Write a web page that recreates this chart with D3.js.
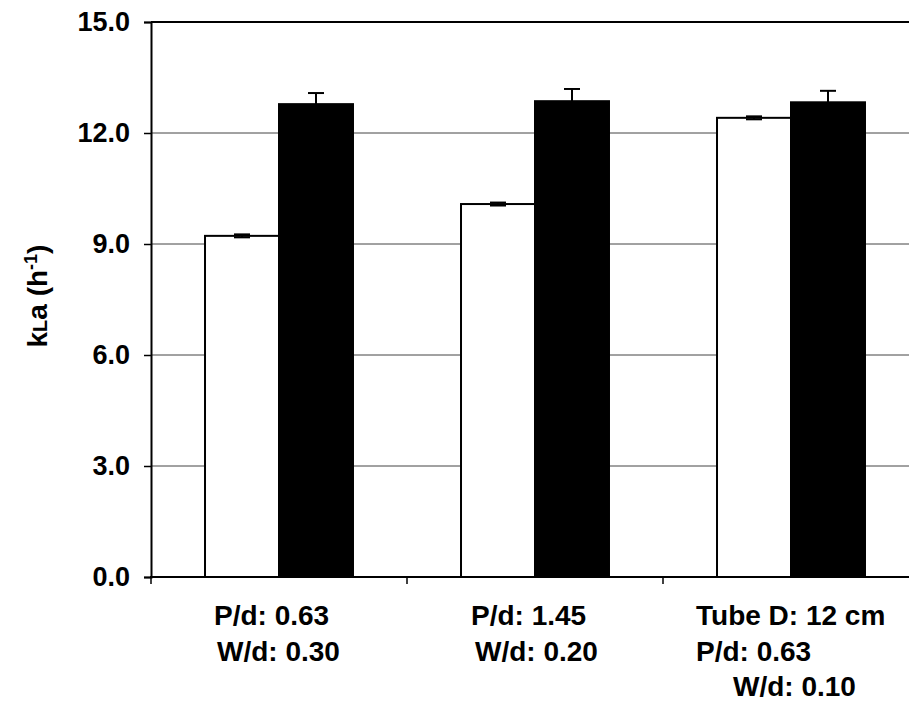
<!DOCTYPE html>
<html>
<head>
<meta charset="utf-8">
<script src="https://cdn.jsdelivr.net/npm/d3@7"></script>
<style>
  html, body { margin: 0; padding: 0; background: #fff; }
  svg { display: block; }
  text { font-family: "Liberation Sans", Arial, sans-serif; font-weight: bold; fill: #000; }
</style>
</head>
<body>
<script>
// ---- data ----
const categories = ["g1", "g2", "g3"];
const categoryLabels = [
  ["P/d: 0.63", "W/d: 0.30"],
  ["P/d: 1.45", "W/d: 0.20"],
  ["Tube D: 12 cm", "P/d: 0.63", "W/d: 0.10"]
];
const series = ["white", "black"];
const whiteValues = [9.22, 10.08, 12.41];
const whiteErrors = [0.04, 0.04, 0.04];
const blackValues = [12.78, 12.86, 12.83];
const blackErrors = [0.30, 0.33, 0.31];
const yTicks = [0, 3, 6, 9, 12, 15];

// ---- layout ----
const W = 909, H = 702;
const plotLeft = 151, plotRight = 919, plotTop = 22, plotBottom = 577;
// per-line horizontal offsets of the category labels (relative to band centre, text-anchor start)
const labelLineStart = [[-65, -62], [-64, -60], [-95, -95, -58]];

const svg = d3.select("body").append("svg").attr("width", W).attr("height", H);

const x = d3.scaleBand().domain(categories).range([plotLeft, plotRight]).paddingInner(0).paddingOuter(0);
const xInner = d3.scaleBand().domain(series).range([0, x.bandwidth()]).paddingInner(0).paddingOuter(0.73);
const y = d3.scaleLinear().domain([0, 15]).range([plotBottom, plotTop]);

// gridlines
svg.append("g").selectAll("line").data(yTicks.filter(d => d > 0)).join("line")
  .attr("x1", plotLeft).attr("x2", plotRight)
  .attr("y1", d => y(d)).attr("y2", d => y(d))
  .attr("stroke", d => d === 15 ? "#000" : "#444")
  .attr("stroke-width", d => d === 15 ? 2 : 1);

// bars
const rows = categories.map((c, i) => [
  { cat: c, s: "white", v: whiteValues[i], e: whiteErrors[i] },
  { cat: c, s: "black", v: blackValues[i], e: blackErrors[i] }
]).flat();

svg.append("g").selectAll("rect").data(rows).join("rect")
  .attr("x", d => x(d.cat) + xInner(d.s))
  .attr("y", d => y(d.v))
  .attr("width", xInner.bandwidth())
  .attr("height", d => y(0) - y(d.v))
  .attr("fill", d => d.s === "white" ? "#fff" : "#000")
  .attr("stroke", "#000")
  .attr("stroke-width", 2);

// error bars
const eb = svg.append("g").attr("stroke", "#000").attr("stroke-width", 2);
rows.forEach(d => {
  const cx = x(d.cat) + xInner(d.s) + xInner.bandwidth() / 2;
  eb.append("line").attr("x1", cx).attr("x2", cx).attr("y1", y(d.v - d.e)).attr("y2", y(d.v + d.e));
  [d.v + d.e, d.v - d.e].forEach(v => {
    eb.append("line").attr("x1", cx - 8).attr("x2", cx + 8).attr("y1", y(v)).attr("y2", y(v));
  });
});

// y axis
const yAxis = d3.axisLeft(y).tickValues(yTicks).tickFormat(d3.format(".1f")).tickSizeOuter(0).tickSize(7).tickPadding(14);
const gy = svg.append("g").attr("transform", `translate(${plotLeft},0)`).call(yAxis);
gy.select(".domain").attr("stroke", "#000").attr("stroke-width", 2);
gy.selectAll(".tick line").attr("stroke", "#000").attr("stroke-width", 1.5);
gy.selectAll(".tick text").style("font-size", "27px").style("font-family", '"Liberation Sans", Arial, sans-serif').style("font-weight", "bold").attr("fill", "#000");

// x axis line
svg.append("line").attr("x1", plotLeft - 1).attr("x2", plotRight)
  .attr("y1", plotBottom).attr("y2", plotBottom).attr("stroke", "#000").attr("stroke-width", 2);
// x tick marks at category boundaries
svg.append("g").selectAll("line").data(categories).join("line")
  .attr("x1", d => x(d)).attr("x2", d => x(d))
  .attr("y1", plotBottom).attr("y2", plotBottom + 7)
  .attr("stroke", "#000").attr("stroke-width", 1.5);

// category labels
categories.forEach((c, i) => {
  const cx = x(c) + x.bandwidth() / 2;
  categoryLabels[i].forEach((line, j) => {
    svg.append("text")
      .attr("x", cx + labelLineStart[i][j])
      .attr("y", 625 + j * 35.5)
      .attr("text-anchor", "start")
      .style("font-size", "28px")
      .text(line);
  });
});

// y axis title
const t = svg.append("text")
  .attr("transform", "translate(47,296) rotate(-90)")
  .attr("text-anchor", "middle")
  .style("font-size", "28px");
t.append("tspan").text("k");
t.append("tspan").style("font-size", "20px").text("L");
t.append("tspan").text("a (h");
t.append("tspan").attr("dy", -10).style("font-size", "18px").text("-1");
t.append("tspan").attr("dy", 10).text(")");
</script>
</body>
</html>
